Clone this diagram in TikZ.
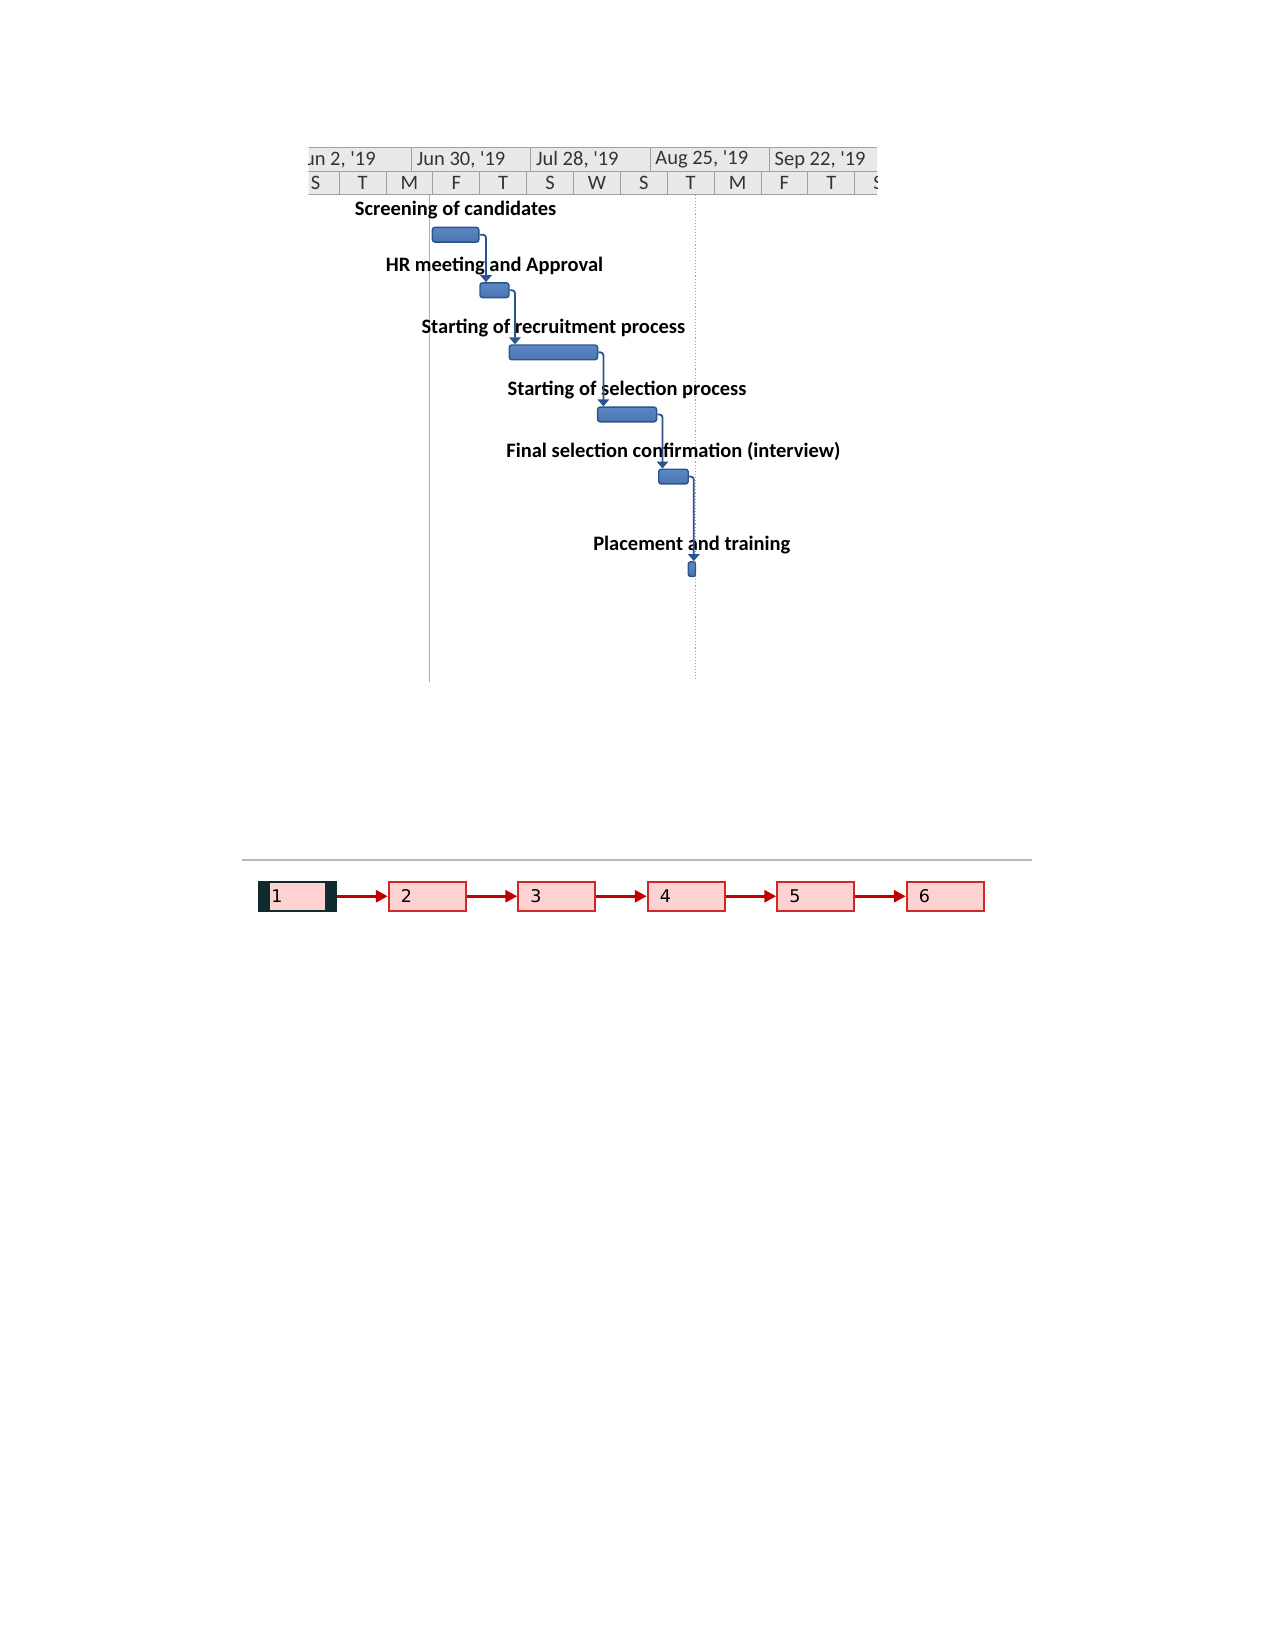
\documentclass[tikz,border=0pt]{standalone}
\usepackage{fontspec}
\setmainfont{Carlito}
\newfontfamily\numfont{DejaVu Sans}
\usetikzlibrary{arrows.meta,positioning}

\definecolor{barlight}{HTML}{93B6E3}
\definecolor{barblue}{HTML}{5B88C6}
\definecolor{barlow}{HTML}{4A75B0}
\definecolor{bardark}{HTML}{2D5486}
\definecolor{linkblue}{HTML}{2A5490}
\definecolor{headfill}{HTML}{E9E9E9}
\definecolor{gridgray}{HTML}{A0A0A0}
\definecolor{headtext}{HTML}{333333}
\definecolor{todayorange}{HTML}{F3A04E}
\definecolor{boxpink}{HTML}{FFD2D2}
\definecolor{boxred}{HTML}{D02828}
\definecolor{flowred}{HTML}{C00000}
\definecolor{seldark}{HTML}{0F2B2E}

\begin{document}
\begin{tikzpicture}[x=1pt, y=-1pt,
    bar/.style={draw=bardark, line width=1.4pt, rounded corners=2.5pt, top color=barblue, middle color=barlight,
      bottom color=barlow, minimum height=14.7, inner sep=0, anchor=north west},
    task/.style={font=\bfseries\fontsize{20.5}{24}\selectfont, inner sep=0, text height=14pt, text depth=5pt,
      label distance=5.7pt},
    link/.style={draw=linkblue, line width=1.8pt, rounded corners=3pt, -{Triangle[width=11.5pt,length=7pt]}},
    cell/.style={draw=gridgray, fill=headfill, line width=0.9pt},
    scaletext/.style={font=\fontsize{20.5}{22}\selectfont, text=headtext, inner sep=0},
    box/.style={draw=boxred, fill=boxpink, line width=2pt, minimum height=29.5, text width=53pt, inner xsep=12pt,
      inner ysep=0, align=left, font=\numfont\fontsize{17.5}{20}\selectfont},
    selbox/.style={box, draw=seldark, fill=seldark,
      path picture={\fill[boxpink] ([xshift=11pt,yshift=-1.5pt]path picture bounding box.north west)
        rectangle ([xshift=-11pt,yshift=1.5pt]path picture bounding box.south east);}},
    flow/.style={draw=flowred, line width=3pt, -{Triangle[width=12pt,length=12pt]}},
    node distance=50.5pt]
  \useasboundingbox (0,0) rectangle (1275,1651);

  % timescale
  \begin{scope}
    \clip (308.5,147.4) rectangle (877,194.8);
    \foreach \lab [count=\i from 0] in {{Jun 2, \textquotesingle19},{Jun 30, \textquotesingle19},{Jul 28, \textquotesingle19},
        {Aug 25, \textquotesingle19},{Sep 22, \textquotesingle19}} {
      \draw[cell] (292.3+119.3*\i,147.4) rectangle ++(119.3,24.2);
      \node[scaletext, anchor=west] (m\i) at (292.3+119.3*\i+5,159.8) {\lab};
    }
    \foreach \d [count=\i from 0] in {S,T,M,F,T,S,W,S,T,M,F,T,S} {
      \draw[cell] (292.3+46.87*\i,171.6) rectangle ++(46.87,23.2);
      \node[scaletext] (d\i) at (292.3+46.87*\i+23.4,183.4) {\d};
    }
  \end{scope}

  % status date and today line
  \draw[todayorange, line width=1.8pt] (429.5,194.8) -- (429.5,682.2);
  \draw[gridgray, line width=1.1pt, dotted] (695.9,194.8) -- (695.9,679);

  % tasks
  \node[bar, minimum width=46.5, label={[task]above:Screening of candidates}] (b1) at (431.7,226.7) {};
  \node[bar, minimum width=29.0, label={[task]above:HR meeting and Approval}] (b2) at (479.3,282.2) {};
  \node[bar, minimum width=88.4, label={[task]above:Starting of recruitment process}] (b3) at (508.5,344.3) {};
  \node[bar, minimum width=59.0, label={[task]above:Starting of selection process}] (b4) at (596.9,406.4) {};
  \node[bar, minimum width=29.5, label={[task]above:Final selection confirmation (interview)}] (b5) at (658.0,468.5) {};
  \node[bar, minimum width=7.3, label={[task]above:Placement and training}] (b6) at (687.5,561.1) {};

  \draw[link] (b1.east) -| ([xshift=6.7pt]b2.north west);
  \draw[link] (b2.east) -| ([xshift=6.5pt]b3.north west);
  \draw[link] (b3.east) -| ([xshift=6.5pt]b4.north west);
  \draw[link] (b4.east) -| ([xshift=4.5pt]b5.north west);
  \draw[link] (b5.east) -| ([xshift=6.3pt]b6.north west);

  % network view
  \draw[gridgray!75, line width=2pt] (242.1,860.1) -- (1031.7,860.1);

  \node[selbox, anchor=north west] (n1) at (258.3,880.5) {1};
  \node[box, right=of n1] (n2) {2};
  \node[box, right=of n2] (n3) {3};
  \node[box, right=of n3] (n4) {4};
  \node[box, right=of n4] (n5) {5};
  \node[box, right=of n5] (n6) {6};

  \draw[flow] (n1) -- (n2);
  \draw[flow] (n2) -- (n3);
  \draw[flow] (n3) -- (n4);
  \draw[flow] (n4) -- (n5);
  \draw[flow] (n5) -- (n6);
\end{tikzpicture}
\end{document}
